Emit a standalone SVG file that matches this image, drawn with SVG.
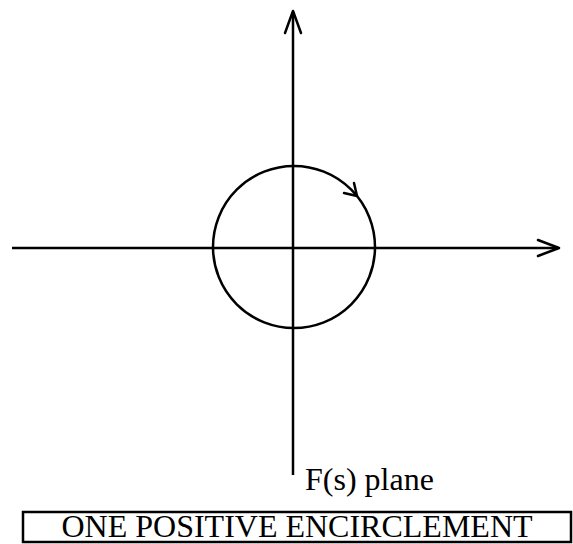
<svg xmlns="http://www.w3.org/2000/svg" width="573" height="544" viewBox="0 0 573 544">
<style>
.ax{stroke:#000;stroke-width:2.5;fill:none}
.hd{stroke:#000;stroke-width:2.5;fill:none;stroke-linecap:round;stroke-linejoin:round}
.t{font-family:"Liberation Serif",serif;font-size:32px;fill:#000}
</style>
<rect width="573" height="544" fill="#fff"/>
<g id="connectors">
<line class="ax" x1="293" y1="12" x2="293" y2="475"/>
<polyline class="hd" points="285,33 293,11 301,33"/>
<line class="ax" x1="12" y1="248" x2="558" y2="248"/>
<polyline class="hd" points="538,240 559,248 538,256"/>
</g>
<g id="contour">
<circle class="ax" cx="294" cy="247" r="81"/>
<polyline class="hd" points="354,183 357,196 344,193"/>
</g>
<g id="label-plane">
<text class="t" x="305" y="490">F(s) plane</text>
</g>
<g id="label-box">
<rect x="23" y="512" width="548" height="30" fill="none" stroke="#000" stroke-width="2.5"/>
<text class="t" x="297" y="537" text-anchor="middle">ONE POSITIVE ENCIRCLEMENT</text>
</g>
</svg>
